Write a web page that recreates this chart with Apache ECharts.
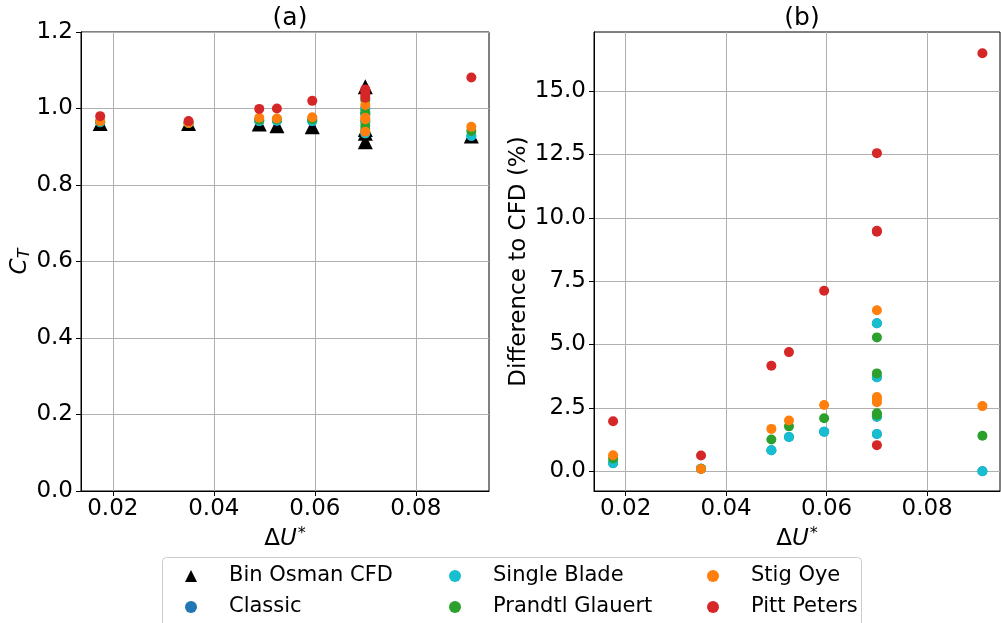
<!DOCTYPE html>
<html><head><meta charset="utf-8">
<script src="https://cdn.jsdelivr.net/npm/echarts@6/dist/echarts.min.js"></script>
<style>html,body{margin:0;padding:0;background:#fff}#c{width:1001px;height:623px}</style>
</head><body><div id="c"></div>
<script>
// ---- data ----
const deltaU = [0.0175, 0.035, 0.049, 0.0525, 0.0595, 0.07, 0.07, 0.07, 0.07, 0.091];
// Panel (a): thrust coefficient C_T
const ctCFD      = [0.961, 0.961, 0.9595, 0.955, 0.952, 1.057, 0.945, 0.935, 0.913, 0.928];
const ctClassic  = [0.964, 0.962, 0.967, 0.968, 0.967, 1.000, 0.985, 0.966, 0.935, 0.928];
const ctSingle   = [0.964, 0.962, 0.967, 0.968, 0.967, 1.000, 0.985, 0.966, 0.935, 0.928];
const ctPrandtl  = [0.966, 0.962, 0.971, 0.972, 0.972, 1.022, 0.990, 0.955, 0.945, 0.941];
const ctStig     = [0.967, 0.962, 0.976, 0.974, 0.977, 1.009, 0.976, 0.939, 0.972, 0.952];
const ctPitt     = [0.980, 0.967, 0.999, 1.000, 1.020, 1.050, 1.045, 1.035, 1.028, 1.081];
// Panel (b): difference to CFD (%)
const dClassic   = [0.32, 0.10, 0.83, 1.35, 1.56, 1.47, 2.15, 3.71, 5.84, 0.00];
const dSingle    = [0.32, 0.10, 0.83, 1.35, 1.56, 1.47, 2.15, 3.71, 5.84, 0.00];
const dPrandtl   = [0.50, 0.10, 1.25, 1.77, 2.09, 2.29, 2.22, 3.86, 5.28, 1.40];
const dStig      = [0.63, 0.09, 1.67, 2.00, 2.61, 2.72, 2.93, 6.35, 2.85, 2.57];
const dPitt      = [1.97, 0.62, 4.16, 4.70, 7.12, 1.03, 9.49, 9.45, 12.55, 16.49];
const xTicks = [0.02, 0.04, 0.06, 0.08];
const ctTicks = [0, 0.2, 0.4, 0.6, 0.8, 1.0, 1.2];
const dTicks = [0, 2.5, 5, 7.5, 10, 12.5, 15];
const names = ['Bin Osman CFD', 'Classic', 'Single Blade', 'Prandtl Glauert', 'Stig Oye', 'Pitt Peters'];
const colors = ['#000000', '#1f77b4', '#17becf', '#2ca02c', '#ff7f0e', '#d62728'];

// ---- chart ----
const F = 'DejaVu Sans';
const pair = (xs, ys) => xs.map((x, i) => [x, ys[i]]);
const chart = echarts.init(document.getElementById('c'), null, {renderer: 'canvas'});
const axisCommon = {
  axisLine: {show: true, onZero: false, lineStyle: {color: '#000', width: 1}},
  axisTick: {show: true, inside: false, length: 5, lineStyle: {color: '#000'}},
  axisLabel: {color: '#000', fontFamily: F, fontSize: 23},
  splitLine: {show: true, lineStyle: {color: '#b0b0b0', width: 1}}
};
function xAx(gi) {
  return Object.assign({}, axisCommon, {
    type: 'value', gridIndex: gi, min: 0.0137, max: 0.0945,
    axisTick: Object.assign({}, axisCommon.axisTick, {customValues: xTicks}),
    axisLabel: Object.assign({}, axisCommon.axisLabel, {customValues: xTicks, margin: 7, formatter: v => v.toFixed(2)}),
    name: '{d|Δ}{u|U}{s|*}', nameLocation: 'middle', nameGap: 24,
    nameTextStyle: {rich: {
      d: {fontFamily: F, fontSize: 23, color: '#000'},
      u: {fontFamily: F, fontSize: 23, fontStyle: 'italic', color: '#000'},
      s: {fontFamily: F, fontSize: 16, color: '#000', padding: [0, 0, 11, 1]}
    }}
  });
}
const sizes = [15, 10, 10, 10, 10, 10];
const series = [];
const ctArr = [ctCFD, ctClassic, ctSingle, ctPrandtl, ctStig, ctPitt];
const dArr = [null, dClassic, dSingle, dPrandtl, dStig, dPitt];
names.forEach((n, i) => {
  series.push({type: 'scatter', name: n, xAxisIndex: 0, yAxisIndex: 0,
    symbol: i === 0 ? 'triangle' : 'circle', symbolSize: sizes[i],
    itemStyle: {color: colors[i], opacity: 1}, data: pair(deltaU, ctArr[i]), z: 3 + i});
  if (dArr[i]) series.push({type: 'scatter', name: n, xAxisIndex: 1, yAxisIndex: 1,
    symbol: 'circle', symbolSize: sizes[i],
    itemStyle: {color: colors[i], opacity: 1}, data: pair(deltaU, dArr[i]), z: 3 + i});
});
function legendCol(left, pad, items) {
  return {orient: 'vertical', left: left, top: 558, height: 100, padding: 5, itemWidth: 12, itemHeight: 12, itemGap: 5,
    textStyle: {fontFamily: F, fontSize: 21, color: '#000', lineHeight: 26, padding: [0, 0, 0, pad]},
    selectedMode: false, data: items.map(n => ({name: n, icon: n === names[0] ? 'triangle' : 'circle'}))};
}
chart.setOption({
  animation: false,
  title: [
    {text: '(a)', left: 285, top: 1, textAlign: 'center', textStyle: {fontFamily: F, fontSize: 25, fontWeight: 'normal', color: '#000'}},
    {text: '(b)', left: 797, top: 1, textAlign: 'center', textStyle: {fontFamily: F, fontSize: 25, fontWeight: 'normal', color: '#000'}}
  ],
  grid: [
    {left: 81, top: 32, width: 408, height: 459, show: true, borderColor: '#000', borderWidth: 1, backgroundColor: 'transparent'},
    {left: 594, top: 32, width: 406, height: 459, show: true, borderColor: '#000', borderWidth: 1, backgroundColor: 'transparent'}
  ],
  xAxis: [xAx(0), xAx(1)],
  yAxis: [
    Object.assign({}, axisCommon, {type: 'value', gridIndex: 0, min: 0, max: 1.2, interval: 0.2,
      axisLabel: Object.assign({}, axisCommon.axisLabel, {formatter: v => v.toFixed(1)}),
      name: '{c|C}{t|T}', nameLocation: 'middle', nameGap: 40, nameRotate: 90,
      nameTextStyle: {rich: {
        c: {fontFamily: F, fontSize: 23, fontStyle: 'italic', color: '#000'},
        t: {fontFamily: F, fontSize: 16, fontStyle: 'italic', color: '#000', padding: [9, 0, 0, 0]}
      }}}),
    Object.assign({}, axisCommon, {type: 'value', gridIndex: 1, min: -0.78, max: 17.33,
      axisTick: Object.assign({}, axisCommon.axisTick, {customValues: dTicks}),
      axisLabel: Object.assign({}, axisCommon.axisLabel, {customValues: dTicks, formatter: v => v.toFixed(1)}),
      name: 'Difference to CFD (%)', nameLocation: 'middle', nameGap: 62, nameRotate: 90,
      nameTextStyle: {fontFamily: F, fontSize: 23, color: '#000'}})
  ],
  legend: [
    legendCol(180, 27, [names[0], names[1]]),
    legendCol(444, 27, [names[2], names[3]]),
    legendCol(702, 27, [names[4], names[5]])
  ],
  graphic: [{type: 'rect', shape: {x: 162.5, y: 557.5, width: 699, height: 72, r: 4},
    style: {fill: '#fff', stroke: '#cccccc', lineWidth: 1}, z: -1}],
  series: series
});
</script></body></html>
